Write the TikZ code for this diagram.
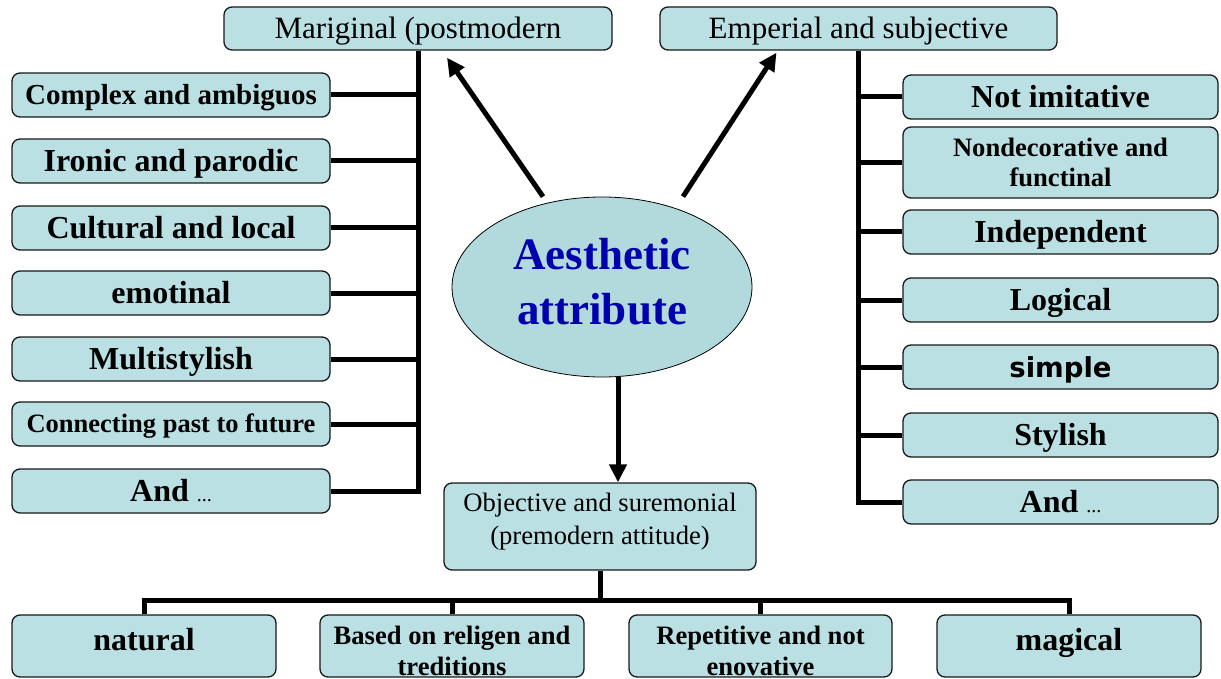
\documentclass[tikz,border=0pt]{standalone}
\usepackage{fontspec}
\setmainfont{Liberation Serif}
\newfontfamily\dvsans{DejaVu Sans}
\usetikzlibrary{arrows.meta,shapes.geometric}
\definecolor{boxfill}{RGB}{187,224,227}
\definecolor{ellfill}{RGB}{178,218,220}
\definecolor{titleblue}{RGB}{0,0,175}
\begin{document}
\begin{tikzpicture}[x=1pt,y=-1pt,
  box/.style={draw=black!90, line width=1.3pt, fill=boxfill, rounded corners=8pt, inner sep=0pt, align=center},
  lbox/.style={box, minimum width=318pt, minimum height=44pt},
  rbox/.style={box, minimum width=315pt, minimum height=44pt},
  bbox/.style={box, minimum width=264pt, minimum height=62pt},
  tbox/.style={box, minimum height=43pt, font=\fontsize{31}{36}\selectfont, text height=20.5pt, text depth=0pt},
  fb32/.style={font=\bfseries\fontsize{32}{36}\selectfont, text height=21pt, text depth=0pt},
  fb29/.style={font=\bfseries\fontsize{29}{33}\selectfont, text height=19pt, text depth=0pt},
  fb26/.style={font=\bfseries\fontsize{26.5}{30}\selectfont, text height=17.5pt, text depth=0pt},
  fb2l/.style={font=\bfseries\fontsize{26.6}{30.5}\selectfont, align=center, inner sep=0pt},
  conn/.style={line width=5pt},
  arr/.style={line width=5pt, -{Triangle[length=18pt,width=17pt]}},
  btxt/.style={inner sep=0pt}
]
\useasboundingbox (0,0) rectangle (1221,679);

% top boxes
\node[tbox, minimum width=388pt] (mar) at (418,28.5) {Mariginal (postmodern};
\node[tbox, minimum width=397pt] (emp) at (858.5,28.5) {Emperial and subjective};

% left column
\node[lbox, fb29] (l1) at (171,95) {Complex and ambiguos};
\node[lbox, fb32] (l2) at (171,161) {Ironic and parodic};
\node[lbox, fb32] (l3) at (171,228) {Cultural and local};
\node[lbox, fb32] (l4) at (171,293) {emotinal};
\node[lbox, fb32] (l5) at (171,359) {Multistylish};
\node[lbox, fb26] (l6) at (171,424) {Connecting past to future};
\node[lbox, fb32] (l7) at (171,491) {And {\mdseries\fontsize{20}{24}\selectfont ...}};

% right column
\node[rbox, fb32] (r1) at (1060.5,97) {Not imitative};
\node[rbox, minimum height=71pt, fb2l] (r2) at (1060.5,162.5) {Nondecorative and\\functinal};
\node[rbox, fb32] (r3) at (1060.5,232) {Independent};
\node[rbox, fb32] (r4) at (1060.5,300) {Logical};
\node[rbox, font=\dvsans\bfseries\fontsize{27.5}{32}\selectfont, text height=21pt, text depth=0pt] (r5) at (1060.5,367) {simple};
\node[rbox, fb32] (r6) at (1060.5,435) {Stylish};
\node[rbox, fb32] (r7) at (1060.5,502) {And {\mdseries\fontsize{20}{24}\selectfont ...}};

% central ellipse
\node[ellipse, draw=black, line width=0.8pt, fill=ellfill, minimum width=300pt, minimum height=180pt, inner sep=0pt] (ell) at (602,287) {};
\node[btxt, font=\bfseries\fontsize{45}{55}\selectfont, text=titleblue, align=center] (elltxt) at (602,282) {Aesthetic\\attribute};

% objective box
\node[box, minimum width=312pt, minimum height=87pt] (obj) at (600,526.5) {};
\node[btxt, font=\fontsize{26.6}{33}\selectfont, align=center] (objtxt) at (600,522) {Objective and suremonial\\(premodern attitude)};

% bottom boxes
\node[bbox] (b1) at (144,646) {};
\node[bbox] (b2) at (452,646) {};
\node[bbox, minimum width=263pt] (b3) at (760.5,646) {};
\node[bbox] (b4) at (1069,646) {};
\node[btxt, fb32] (b1t) at (144,640) {natural};
\node[btxt, fb2l] (b2t) at (452,651) {Based on religen and\\treditions};
\node[btxt, fb2l] (b3t) at (760.5,651) {Repetitive and not\\enovative};
\node[btxt, fb32] (b4t) at (1069,640) {magical};

% left tree
\draw[conn] (mar.south) |- (l7.east);
\foreach \n in {l1,l2,l3,l4,l5,l6}{\draw[conn] (\n.east) -- (\n.east -| mar.south);}

% right tree
\draw[conn] (emp.south) |- (r7.west);
\foreach \n in {r1,r2,r3,r4,r5,r6}{\draw[conn] (\n.west) -- (\n.west -| emp.south);}

% arrows from ellipse
\draw[arr] ([xshift=-59pt]ell.north) -- ([xshift=29pt,yshift=-7pt]mar.south);
\draw[arr] ([xshift=81pt]ell.north) -- ([xshift=-82pt,yshift=-2pt]emp.south);
\draw[arr] ([xshift=16pt]ell.south) -- ([xshift=16pt]ell.south |- obj.north);

% bottom tree
\coordinate (hb) at ([yshift=-30pt]obj.south);
\draw[conn] (obj.south) -- (hb);
\draw[conn] (b1.north) |- (hb);
\draw[conn] (b4.north) |- (hb);
\draw[conn] (b2.north) -- (b2.north |- hb);
\draw[conn] (b3.north) -- (b3.north |- hb);
\end{tikzpicture}
\end{document}
